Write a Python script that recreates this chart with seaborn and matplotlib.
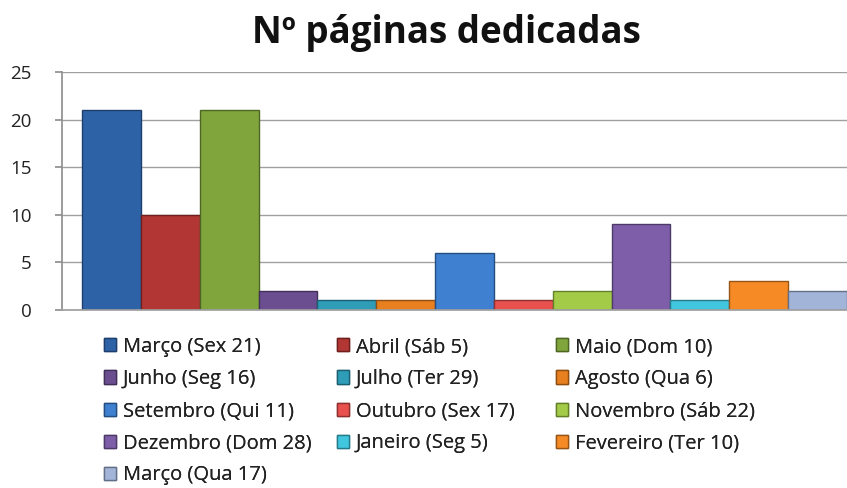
import matplotlib
matplotlib.use("Agg")
import matplotlib.pyplot as plt
import matplotlib.patches as mpatches
import seaborn as sns
import pandas as pd

categories = ["Março (Sex 21)", "Abril (Sáb 5)", "Maio (Dom 10)",
              "Junho (Seg 16)", "Julho (Ter 29)", "Agosto (Qua 6)",
              "Setembro (Qui 11)", "Outubro (Sex 17)", "Novembro (Sáb 22)",
              "Dezembro (Dom 28)", "Janeiro (Seg 5)", "Fevereiro (Ter 10)",
              "Março (Qua 17)"]
values = [21, 10, 21, 2, 1, 1, 6, 1, 2, 9, 1, 3, 2]
colors = ["#2E62A6", "#B23633", "#80A53C", "#6B4E8F", "#2F9CB8", "#E8801F",
          "#3F80D0", "#E8514E", "#A3CB48", "#7E5EA8", "#40C6DF", "#F68B26",
          "#A2B5D8"]
edges = ["#1E3F6B", "#6E1F1E", "#4E6624", "#41305A", "#1C5F70", "#8F4E13",
         "#254D80", "#8E302F", "#64802A", "#4D3A68", "#277A88", "#975517",
         "#637088"]
title = "Nº páginas dedicadas"
yticks = [0, 5, 10, 15, 20, 25]

sns.set_theme(style="white")
plt.rcParams["font.family"] = ["Open Sans", "DejaVu Sans"]

df = pd.DataFrame({"cat": categories, "val": values})

fig = plt.figure(figsize=(8.47, 4.88), dpi=100)
ax = fig.add_axes([62 / 847, 1 - 310 / 488, 805 / 847, 238 / 488])

sns.barplot(data=df, x="cat", y="val", hue="cat", order=categories,
            hue_order=categories, palette=colors, dodge=False, width=1.0,
            legend=False, ax=ax, saturation=1)
for patch, ec in zip(ax.patches, edges):
    patch.set_edgecolor(ec)
    patch.set_linewidth(1.0)

ax.set_xlim(-0.84, 12.84)
ax.set_ylim(0, 25)
ax.set_yticks(yticks)
ax.set_yticklabels([str(t) for t in yticks], fontsize=13.5, color="#222222")
ax.set_xticks([])
ax.set_xlabel("")
ax.set_ylabel("")
ax.yaxis.grid(True, color="#A0A0A0", linewidth=1.0)
ax.set_axisbelow(True)
for s in ["top", "right"]:
    ax.spines[s].set_visible(False)
ax.spines["left"].set_color("#909090")
ax.spines["bottom"].set_color("#A0A0A0")
ax.tick_params(axis="y", length=5, color="#909090", pad=17, left=True)

fig.text(0.527, 1 - 33 / 488, title, ha="center", va="center",
         fontsize=26.5, fontweight="bold", color="#111111")

handles = [mpatches.Patch(facecolor=c, edgecolor=e, label=l)
           for c, e, l in zip(colors, edges, categories)]
col_x = [104, 337, 556]
for col in range(3):
    idx = list(range(col, len(categories), 3))
    leg = fig.legend([handles[i] for i in idx], [categories[i] for i in idx],
                     ncol=1, loc="upper left",
                     bbox_to_anchor=(col_x[col] / 847, 1 - 337 / 488),
                     frameon=False, fontsize=14.5, handlelength=0.62,
                     handleheight=0.62, handletextpad=0.3, labelspacing=0.6,
                     borderpad=0, borderaxespad=0)
    for t in leg.get_texts():
        t.set_color("#222222")
    fig.add_artist(leg)

fig.savefig("out.png", dpi=100)
